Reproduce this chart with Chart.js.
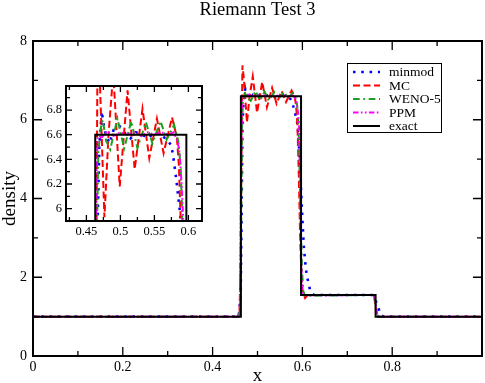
<!DOCTYPE html>
<html>
<head>
<meta charset="utf-8">
<script src="https://cdn.jsdelivr.net/npm/chart.js@4.4.0/dist/chart.umd.min.js"></script>
<style>
  html, body { margin: 0; padding: 0; background: #fff; }
  #wrap { position: relative; width: 485px; height: 383px; }
  #wrap canvas { position: absolute; left: 0; top: 0; }
</style>
</head>
<body>
<div id="wrap">
  <canvas id="main" width="485" height="383"></canvas>
  <canvas id="inset" width="485" height="383"></canvas>
</div>
<script>
// series values
const exactX = [0, 0.463, 0.463, 0.597, 0.597, 0.763, 0.763, 1];
const exactY = [1, 1, 6.6, 6.6, 1.55, 1.55, 1, 1];

const minmodX = [0, 0.458, 0.4625, 0.4645, 0.4665, 0.469, 0.4726, 0.4745, 0.4785, 0.484, 0.49, 0.4987, 0.507,
  0.515, 0.523, 0.532, 0.541, 0.55, 0.559, 0.5685, 0.574, 0.577, 0.58, 0.583, 0.586, 0.589, 0.592, 0.595,
  0.599, 0.603, 0.6075, 0.61, 0.6178, 0.625, 0.755, 0.762, 0.768, 0.772, 0.777, 0.782, 1];
const minmodY = [1, 1, 1.5, 3.5, 5.9, 6.5, 6.79, 6.71, 6.6, 6.53, 6.64, 6.67, 6.61,
  6.57, 6.62, 6.6, 6.57, 6.62, 6.6, 6.56, 6.52, 6.45, 6.33, 6.2, 6.05, 5.9, 5.45, 4.7,
  3.7, 2.8, 2.23, 2.03, 1.64, 1.55, 1.55, 1.45, 1.25, 1.13, 1.02, 1, 1];

const mcX = [0, 0.455, 0.46, 0.4625, 0.465, 0.4665, 0.47, 0.4765, 0.4825, 0.4895, 0.499, 0.5105, 0.521,
  0.5325, 0.5425, 0.5537, 0.5635, 0.5759, 0.583, 0.586, 0.589, 0.592, 0.595, 0.598, 0.601, 0.606, 0.612,
  0.755, 0.76, 0.764, 0.767, 1];
const mcY = [1, 1, 1.1, 2.5, 6.0, 7.38, 7.0, 5.93, 6.6, 7.1, 6.18, 6.96, 6.32,
  6.81, 6.41, 6.73, 6.45, 6.74, 6.58, 6.35, 5.85, 4.6, 3.0, 2.0, 1.6, 1.47, 1.55,
  1.55, 1.5, 1.15, 1, 1];

const wenoX = [0, 0.458, 0.4615, 0.4635, 0.4655, 0.4675, 0.4705, 0.474, 0.479, 0.485, 0.4957, 0.5055, 0.516,
  0.525, 0.5376, 0.547, 0.559, 0.568, 0.579, 0.585, 0.5885, 0.5906, 0.593, 0.596, 0.599, 0.602, 0.606,
  0.757, 0.762, 0.766, 0.769, 1];
const wenoY = [1, 1, 1.2, 3.0, 5.8, 6.45, 6.64, 6.72, 6.55, 6.48, 6.73, 6.49, 6.71,
  6.49, 6.7, 6.53, 6.71, 6.56, 6.68, 6.55, 6.35, 6.0, 5.2, 3.5, 2.2, 1.65, 1.53,
  1.55, 1.4, 1.1, 1, 1];

const ppmX = [0, 0.458, 0.4605, 0.462, 0.4635, 0.465, 0.4665, 0.473, 0.48, 0.49, 0.5, 0.51, 0.52, 0.53,
  0.54, 0.55, 0.56, 0.57, 0.578, 0.584, 0.587, 0.59, 0.5925, 0.5945, 0.5965, 0.599, 0.603,
  0.758, 0.762, 0.765, 0.768, 1];
const ppmY = [1, 1, 1.05, 2.5, 5.0, 6.3, 6.58, 6.58, 6.63, 6.59, 6.62, 6.6, 6.62, 6.59,
  6.62, 6.6, 6.62, 6.6, 6.62, 6.55, 6.45, 6.2, 5.9, 4.5, 2.8, 1.7, 1.54,
  1.55, 1.45, 1.15, 1, 1];

const seriesNames = ['minmod', 'MC', 'WENO-5', 'PPM', 'exact'];

// ticks and tick labels
const mainXTicks = [0, 0.2, 0.4, 0.6, 0.8];
const mainXLabels = ['0', '0.2', '0.4', '0.6', '0.8'];
const mainXMinor = [0.1, 0.3, 0.5, 0.7, 0.9];
const mainYTicks = [0, 2, 4, 6, 8];
const mainYLabels = ['0', '2', '4', '6', '8'];
const mainYMinor = [1, 3, 5, 7];

const insetXTicks = [0.45, 0.5, 0.55, 0.6];
const insetXLabels = ['0.45', '0.5', '0.55', '0.6'];
const insetXMinor = [0.425, 0.475, 0.525, 0.575];
const insetYTicks = [6, 6.2, 6.4, 6.6, 6.8];
const insetYLabels = ['6', '6.2', '6.4', '6.6', '6.8'];
const insetYMinor = [6.1, 6.3, 6.5, 6.7, 6.9];

const serif = "'Liberation Serif', 'DejaVu Serif', serif";
Chart.defaults.font.family = serif;
Chart.defaults.color = '#000';

const seriesStyle = [
  { color: '#0000ff', dash: [2.5, 5.8], width: 2.6 },
  { color: '#ff0000', dash: [7, 3.5], width: 2 },
  { color: '#1e9e1e', dash: [6.7, 3.6, 1.8, 3.6], width: 2 },
  { color: '#ff00ff', dash: [5.5, 2.4, 1.6, 2.4, 1.6, 2.4], width: 2 },
  { color: '#000000', dash: [], width: 2 }
];

function pts(xs, ys) {
  return xs.map((x, i) => ({ x: x, y: ys[i] }));
}

function makeDatasets() {
  const all = [pts(minmodX, minmodY), pts(mcX, mcY), pts(wenoX, wenoY), pts(ppmX, ppmY), pts(exactX, exactY)];
  return all.map((d, i) => ({
    label: seriesNames[i],
    data: d,
    showLine: true,
    borderColor: seriesStyle[i].color,
    borderWidth: seriesStyle[i].width,
    borderDash: seriesStyle[i].dash,
    pointRadius: 0,
    tension: 0,
    fill: false,
    order: i === 4 ? 0 : 5 - i
  }));
}

// inward ticks on all four sides plus the frame
const frameTicks = {
  id: 'frameTicks',
  afterDatasetsDraw(chart, args, o) {
    const { ctx, chartArea: a } = chart;
    const x = chart.scales.x, y = chart.scales.y;
    ctx.save();
    ctx.strokeStyle = '#000';
    ctx.lineWidth = 1.3;
    ctx.setLineDash([]);
    [[o.xMajor, o.major], [o.xMinor, o.minor]].forEach(([list, len]) => {
      list.forEach(v => {
        const px = x.getPixelForValue(v);
        ctx.beginPath();
        ctx.moveTo(px, a.bottom); ctx.lineTo(px, a.bottom - len);
        ctx.moveTo(px, a.top); ctx.lineTo(px, a.top + len);
        ctx.stroke();
      });
    });
    [[o.yMajor, o.major], [o.yMinor, o.minor]].forEach(([list, len]) => {
      list.forEach(v => {
        const py = y.getPixelForValue(v);
        ctx.beginPath();
        ctx.moveTo(a.left, py); ctx.lineTo(a.left + len, py);
        ctx.moveTo(a.right, py); ctx.lineTo(a.right - len, py);
        ctx.stroke();
      });
    });
    ctx.lineWidth = 2;
    ctx.strokeRect(a.left, a.top, a.right - a.left, a.bottom - a.top);
    ctx.restore();
  }
};

const whiteArea = {
  id: 'whiteArea',
  beforeDatasetsDraw(chart) {
    const { ctx, chartArea: a } = chart;
    ctx.save();
    ctx.fillStyle = '#fff';
    ctx.fillRect(a.left, a.top, a.right - a.left, a.bottom - a.top);
    ctx.restore();
  }
};

const titleAndLegend = {
  id: 'titleAndLegend',
  afterDraw(chart) {
    const { ctx, chartArea: a } = chart;
    ctx.save();
    ctx.fillStyle = '#000';
    ctx.font = '18.5px ' + serif;
    ctx.textAlign = 'center';
    ctx.textBaseline = 'alphabetic';
    ctx.fillText('Riemann Test 3', (a.left + a.right) / 2, a.top - 26);

    // legend box
    const bx = a.right - 135, by = a.top + 22, bw = 94, bh = 69;
    ctx.fillStyle = '#fff';
    ctx.fillRect(bx, by, bw, bh);
    ctx.strokeStyle = '#000';
    ctx.lineWidth = 1;
    ctx.strokeRect(bx + 0.5, by + 0.5, bw, bh);
    ctx.font = '13.5px ' + serif;
    ctx.textAlign = 'left';
    ctx.textBaseline = 'middle';
    chart.data.datasets.forEach((ds, i) => {
      const ly = by + 9 + i * 13.5;
      ctx.strokeStyle = ds.borderColor;
      ctx.lineWidth = ds.borderWidth;
      ctx.setLineDash(ds.borderDash);
      ctx.beginPath();
      ctx.moveTo(bx + 6, ly);
      ctx.lineTo(bx + 33, ly);
      ctx.stroke();
      ctx.setLineDash([]);
      ctx.fillStyle = '#000';
      ctx.fillText(ds.label, bx + 42, ly + 0.5);
    });
    ctx.restore();
  }
};

function axis(min, max, ticks, labels, size, pad, fit, title) {
  return {
    type: 'linear',
    min: min,
    max: max,
    grid: { display: false, drawTicks: false },
    border: { display: false },
    afterBuildTicks: s => { s.ticks = ticks.map(v => ({ value: v })); },
    afterFit: fit,
    ticks: {
      autoSkip: false,
      maxRotation: 0,
      padding: pad,
      font: { size: size },
      color: '#000',
      callback: (v, i) => labels[i]
    },
    title: title || { display: false }
  };
}

new Chart(document.getElementById('main'), {
  type: 'scatter',
  data: { datasets: makeDatasets() },
  options: {
    responsive: false,
    animation: false,
    layout: { padding: { top: 41, right: 3, left: 0, bottom: 0 } },
    plugins: {
      legend: { display: false },
      tooltip: { enabled: false },
      frameTicks: { xMajor: mainXTicks, xMinor: mainXMinor, yMajor: mainYTicks, yMinor: mainYMinor, major: 9, minor: 5 }
    },
    scales: {
      x: axis(0, 1, mainXTicks, mainXLabels, 14, 3, s => { s.height = 27; },
        { display: true, text: 'x', padding: 0, font: { size: 19, lineHeight: 0.7 } }),
      y: axis(0, 8, mainYTicks, mainYLabels, 14, 6, s => { s.width = 33; },
        { display: true, text: 'density', padding: 0, font: { size: 19, lineHeight: 1.1 } })
    }
  },
  plugins: [frameTicks, titleAndLegend]
});

new Chart(document.getElementById('inset'), {
  type: 'scatter',
  data: { datasets: makeDatasets() },
  options: {
    responsive: false,
    animation: false,
    layout: { padding: { top: 86, right: 283, left: 0, bottom: 144 } },
    plugins: {
      legend: { display: false },
      tooltip: { enabled: false },
      frameTicks: { xMajor: insetXTicks, xMinor: insetXMinor, yMajor: insetYTicks, yMinor: insetYMinor, major: 6, minor: 4 }
    },
    scales: {
      x: axis(0.42, 0.62, insetXTicks, insetXLabels, 12.5, 3, s => { s.height = 18; }),
      y: axis(5.9, 6.995, insetYTicks, insetYLabels, 12.5, 4, s => { s.width = 66; })
    }
  },
  plugins: [whiteArea, frameTicks]
});
</script>
</body>
</html>
